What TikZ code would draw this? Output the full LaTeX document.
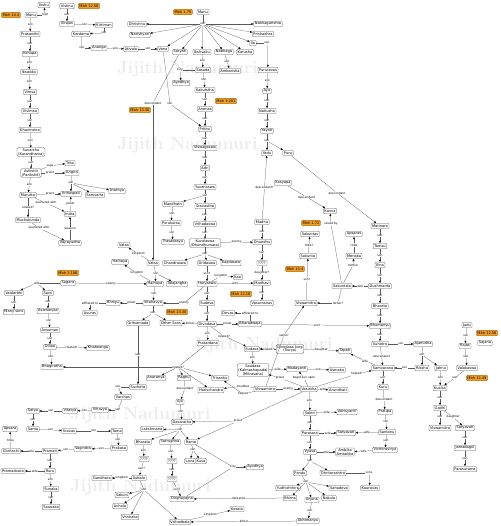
\documentclass[tikz,border=0pt]{standalone}
\usepackage{fontspec}
\usetikzlibrary{arrows.meta}
\newfontfamily\dvs{DejaVu Sans}
\definecolor{linec}{HTML}{5A5A5A}
\definecolor{refor}{HTML}{F0A02A}
\definecolor{refdk}{HTML}{8A5A10}
\definecolor{wmark}{HTML}{ECECEC}
\newcommand\nfont{\dvs\fontsize{5.1}{5.6}\selectfont}
\newcommand\lfont{\dvs\fontsize{4.1}{4.5}\selectfont}
% label on a straight connector: src, text, tgt
\newcommand\lk[3]{\path (#1) -- node[lbl] (#1-#3) {#2} (#3);
  \draw[ln] (#1) -- (#1-#3); \draw[ar] (#1-#3) -- (#3);}
% label at a given point: src, text, tgt, point
\newcommand\lkat[4]{\node[lbl] (#1-#3) at (#4) {#2};
  \draw[ln] (#1) -- (#1-#3); \draw[ar] (#1-#3) -- (#3);}

\begin{document}
\begin{tikzpicture}[x=0.05cm,y=-0.05cm,
    box/.style={draw=linec,fill=white,rounded corners=1.5pt,line width=0.35pt,
      font=\nfont,inner xsep=1.6pt,inner ysep=1pt,minimum height=8pt,align=center},
    ref/.style={box,fill=refor,draw=refdk},
    lbl/.style={font=\lfont,fill=white,inner sep=0.4pt},
    ln/.style={draw=linec,line width=0.35pt},
    ar/.style={ln,-{Triangle[length=3pt,width=2.6pt,color=black]}},
    wm/.style={text=wmark,font=\fontsize{25}{25}\selectfont\bfseries,anchor=west}]
  \useasboundingbox[fill=white] (0,0) rectangle (500,526);
  % watermark
  \node[wm] at (115,69) {Jijith Nadumuri};
  \node[wm] at (115,145) {Jijith Nadumuri};
  \node[wm] at (190,345) {Jijith Nadumuri};
  \node[wm] at (68,415) {Jijith Nadumuri};
  \node[wm] at (68,487) {Jijith Nadumuri};

  % ---- Mbh 14.4 line of Manu
  \node[box] (ikshu) at (44,5) {Ikshu};
  \node[ref] (refa) at (11,15) {Mbh 14.4};
  \node[box] (manua) at (31,15) {Manu};
  \node[box] (prasandhi) at (30,34) {Prasandhi};
  \node[box] (kshupa) at (30,54) {Kshupa};
  \node[box] (ikshvakua) at (29,72) {Ikswaku};
  \node[box] (vimsa) at (30,92) {Vimsa};
  \node[box] (vivimsa) at (30,111) {Vivimsa};
  \node[box] (khaninetra) at (30,130) {Khaninetra};
  \node[box] (suvarcha) at (31,152) {Suvarcha\\(Karandhama)};
  \node[box] (avikshit) at (31,173) {Avikshit\\(Parikshit)};
  \node[box] (marutta) at (28,195) {Marutta};
  \node[box] (muchukunda) at (28,220) {Muchukunda};
  \node[box] (trita) at (70,163) {Trita};
  \node[box] (angira) at (72,173) {Angira};
  \node[box] (vrihaspati) at (71,194) {Vrihaspati};
  \node[box] (samvarta) at (95,195) {Samvarta};
  \node[box] (utathya) at (117,191) {Utathya};
  \node[box] (indra) at (70,214) {Indra};
  \node[box] (vajra) at (70,243) {Vajrayudha};
  \lkat{manua}{rupt}{ikshu}{45,15}
  \lk{manua}{son}{prasandhi}
  \lk{prasandhi}{son}{kshupa}
  \lk{kshupa}{son}{ikshvakua}
  \lk{ikshvakua}{son}{vimsa}
  \lk{vimsa}{son}{vivimsa}
  \lk{vivimsa}{son}{khaninetra}
  \lk{khaninetra}{son}{suvarcha}
  \lk{suvarcha}{son}{avikshit}
  \lk{avikshit}{son}{marutta}
  \lkat{avikshit}{sage}{trita}{50,166}
  \lkat{avikshit}{priest}{angira}{50,173}
  \node[lbl] (angira-son) at (71,183) {son};
  \draw[ln] (angira) -- (angira-son);
  \foreach \t in {vrihaspati,samvarta,utathya} \draw[ar] (angira-son) -- (\t);
  \lkat{marutta}{priest}{vrihaspati}{50,194}
  \lkat{marutta}{quarreled with}{indra}{46,203}
  \lk{marutta}{related?}{muchukunda}
  \lk{indra}{priest}{vrihaspati}
  \lkat{muchukunda}{quarreled with}{vajra}{39,228}
  \lk{vajra}{weapon}{indra}

  % ---- Vishnu line (Mbh 12.58)
  \node[box] (vishnu) at (67,6) {Vishnu};
  \node[ref] (refb) at (89,6) {Mbh 12.58};
  \node[box] (virajas) at (67,24) {Virajas};
  \node[box] (kirtiman) at (104,25) {Kirtiman};
  \node[box] (kardama) at (81,34) {Kardama};
  \node[box] (ananga) at (99,48) {Ananga};
  \node[box] (atibala) at (131,49) {Ativala};
  \node[box] (vena) at (163,49) {Vena};
  \lk{vishnu}{son}{virajas}
  \lk{virajas}{son}{kirtiman}
  \lkat{kirtiman}{son}{kardama}{104,33}
  \lkat{kardama}{son}{ananga}{82,48}
  \lk{ananga}{son}{atibala}
  \lk{atibala}{son}{vena}

  % ---- Manu (Mbh 1.75)
  \node[ref] (refc) at (183,12) {Mbh 1.75};
  \node[box] (manub) at (203,12) {Manu};
  \node[box] (dhrishnu) at (137,24) {Dhrishnu};
  \node[box] (narishyan) at (140,35) {Narishyan};
  \node[box] (nabhagarishta) at (268,24) {Nabhagarishta};
  \node[box] (prishadhra) at (263,34) {Prishadhra};
  \node[box] (ila) at (253,43) {Ila};
  \node[box] (sharyati) at (180,52) {Saryati};
  \node[box] (ikshvakub) at (202,52) {Ikshvaku};
  \node[box] (nabhaga) at (224,52) {Nabhaga};
  \node[box] (karusha) at (245,52) {Karusha};
  \node[lbl] (manub-son) at (203,24) {son};
  \draw[ln] (manub) -- (manub-son);
  \foreach \t in {vena,dhrishnu,narishyan,nabhagarishta,prishadhra,ila,
    sharyati,ikshvakub,nabhaga,karusha} \draw[ar] (manub-son) -- (\t);
  \node[box] (pururavas) at (268,70) {Pururavas};
  \node[box] (ayu) at (267,91) {Ayu};
  \node[box] (nahusha) at (267,111) {Nahusha};
  \node[box] (yayati) at (267,131) {Yayati};
  \node[box] (yadu) at (267,153) {Yadu};
  \node[box] (puru) at (288,153) {Puru};
  \node[box] (ambarisha) at (230,71) {Ambarisha};
  \lkat{ila}{son}{pururavas}{267,43}
  \lk{pururavas}{son}{ayu}
  \lk{ayu}{son}{nahusha}
  \lk{nahusha}{son}{yayati}
  \node[lbl] (yayati-son) at (267,141) {son};
  \draw[ln] (yayati) -- (yayati-son);
  \foreach \t in {yadu,puru} \draw[ar] (yayati-son) -- (\t);
  \lk{nabhaga}{son}{ambarisha}

  % ---- Ikshvaku kings
  \node[box] (sasada) at (203,70) {Sasada};
  \node[box] (ayodhyaa) at (181,83) {Ayodhya};
  \node[box] (kakutstha) at (205,90) {Kakutstha};
  \node[box] (anenas) at (205,109) {Anenas};
  \node[ref] (refd) at (226,101) {Mbh 3.201};
  \node[box] (prithu) at (205,129) {Prithu};
  \node[box] (viswagaswa) at (205,148) {Viswagaswa};
  \node[box] (adri) at (205,168) {Adri};
  \node[box] (yuvanaswa) at (205,187) {Yuvanaswa};
  \node[box] (sravastha) at (205,206) {Sravastha};
  \node[box] (mandhatri) at (173,204) {Mandhatri};
  \node[box] (purukutsa) at (171,223) {Purukutsa};
  \node[box] (trasadasyu) at (173,242) {Trasadasyu};
  \node[box] (vrihadaswa) at (205,224) {Vrihadaswa};
  \node[box] (kuvalaswa) at (205,243) {Kuvalaswa\\(Dhundhumara)};
  \node[box] (chandraswa) at (175,263) {Chandraswa};
  \node[box] (dridaswa) at (207,263) {Dridaswa};
  \node[box] (kapilaswa) at (231,263) {Kapilaswa};
  \lk{ikshvakub}{son}{sasada}
  \lkat{sasada}{City}{ayodhyaa}{180,70}
  \lk{sasada}{son}{kakutstha}
  \lk{kakutstha}{son}{anenas}
  \lk{anenas}{son}{prithu}
  \lkat{vena}{son}{prithu}{170,104}
  \lk{prithu}{son}{viswagaswa}
  \lk{viswagaswa}{son}{adri}
  \lk{adri}{son}{yuvanaswa}
  \node[lbl] (yuvanaswa-son) at (205,195.5) {son};
  \draw[ln] (yuvanaswa) -- (yuvanaswa-son);
  \foreach \t in {sravastha,mandhatri} \draw[ar] (yuvanaswa-son) -- (\t);
  \lk{mandhatri}{son}{purukutsa}
  \lk{purukutsa}{son}{trasadasyu}
  \lk{sravastha}{son}{vrihadaswa}
  \lk{vrihadaswa}{son}{kuvalaswa}
  \node[lbl] (kuvalaswa-son) at (205,254) {son};
  \draw[ln] (kuvalaswa) -- (kuvalaswa-son);
  \foreach \t in {chandraswa,dridaswa,kapilaswa} \draw[ar] (kuvalaswa-son) -- (\t);

  % ---- Madhu, Dhundhu, Kasi kings
  \node[box] (madhu) at (262,222) {Madhu};
  \node[box] (dhundhu) at (262,242) {Dhundhu};
  \node[box] (unka) at (262,263) {????};
  \node[box] (kasi) at (238,277) {Kasi};
  \node[box] (haryaswa) at (207,284) {Haryaswa};
  \node[box] (madhavi) at (262,283) {Madhavi};
  \node[ref] (refe) at (241,294) {Mbh 12.16};
  \node[box] (vasumanas) at (262,303) {Vasumanas};
  \node[box] (sudeva) at (207,303) {Sudeva};
  \node[box] (divodasa) at (207,324) {Divodasa};
  \node[box] (devas) at (228,313) {Devas};
  \node[box] (bharadvaja) at (250,324) {Bharadwaja};
  \node[box] (othersons) at (171,323) {Other Sons};
  \node[ref] (reff) at (177,312) {Mbh 13.30};
  \node[box] (pratardana) at (208,343) {Pratardana};
  \lk{kuvalaswa}{enemy}{dhundhu}
  \lk{madhu}{son}{dhundhu}
  \lk{madhu}{descendant?}{yadu}
  \lk{dhundhu}{son}{unka}
  \lk{unka}{daughter?}{madhavi}
  \lk{dridaswa}{son?}{haryaswa}
  \lkat{haryaswa}{kingdom}{kasi}{221,276}
  \lk{haryaswa}{wife}{madhavi}
  \lk{madhavi}{son}{vasumanas}
  \lk{haryaswa}{son}{sudeva}
  \lk{sudeva}{son}{divodasa}
  \lk{divodasa}{priest}{bharadvaja}
  \lkat{bharadvaja}{affiliated to}{devas}{250,313}
  \lk{divodasa}{killed}{othersons}
  \lk{divodasa}{son}{pratardana}

  % ---- Saudasa, Vasistha
  \node[box] (sudasa) at (252,349) {Sudasa};
  \node[box] (surya) at (290,349) {Divodasa king\\(Surya)};
  \node[box] (tapati) at (345,351) {Tapati};
  \node[box] (saudasa) at (253,370) {Saudasa\\(Kalmashapada)\\(Mitrasaha)};
  \node[box] (madayanti) at (297,369) {Madayanti};
  \node[box] (asmaka) at (337,370) {Asmaka};
  \node[box] (vasistha) at (309,389) {Vasistha};
  \node[box] (viswamitrab) at (265,389) {Viswamitra};
  \node[box] (arundhati) at (338,390) {Arundhati};
  \node[box] (harischandra) at (211,390) {Harischandra};
  \node[box] (trisanku) at (220,378) {Trisanku};
  \node[box] (raghu) at (184,378) {Raghu};
  \node[box] (anaranya) at (156,378) {Anaranya};
  \lkat{divodasa}{related?}{sudasa}{224,336}
  \lk{surya}{related?}{sudasa}
  \lk{surya}{daughter}{tapati}
  \lk{sudasa}{son}{saudasa}
  \lk{saudasa}{wife}{madayanti}
  \lk{madayanti}{son}{asmaka}
  \lkat{vasistha}{priest}{saudasa}{280,378}
  \lkat{vasistha}{begot son upon}{madayanti}{304,378}
  \lk{viswamitrab}{enemy}{vasistha}
  \lk{vasistha}{wife}{arundhati}
  \lkat{viswamitrab}{troubled}{harischandra}{243,386}
  \lkat{viswamitrab}{helped}{trisanku}{243,394}
  \node[lbl] (rel) at (178,367) {related?};
  \draw[ln] (pratardana) -- (rel);
  \foreach \t in {anaranya,raghu,trisanku,harischandra} \draw[ar] (rel) -- (\t);

  % ---- Rama
  \node[box] (aja) at (180,402) {Aja};
  \node[box] (dasaratha) at (182,422) {Dasaratha};
  \node[box] (lakshmana) at (152,429) {Lakshmana};
  \node[box] (bharatab) at (143,442) {Bharata};
  \node[box] (satrughna) at (170,442) {Satrughna};
  \node[box] (rama) at (191,442) {Rama};
  \node[box] (lava) at (190,461) {Lava};
  \node[box] (kusa) at (201,461) {Kusa};
  \node[box] (unkb) at (144,459) {????};
  \node[box] (subala) at (139,478) {Subala};
  \node[box] (gandhara) at (102,478) {Gandhara};
  \node[box] (sakuni) at (122,495) {Sakuni};
  \node[box] (achala) at (120,506) {Achala};
  \node[box] (vrishaka) at (130,517) {Vrishaka};
  \node[box] (unkc) at (172,461) {????};
  \node[box] (unkd) at (172,479) {????};
  \node[box] (dirghayajna) at (182,499) {Dirghayajna};
  \node[box] (ayodhyab) at (255,467) {Ayodhya};
  \node[box] (kosala) at (237,509) {Kosala};
  \node[box] (vrihadbala) at (180,522) {Vrihadbala};
  \lkat{raghu}{descendant}{aja}{185,388}
  \lk{aja}{son}{dasaratha}
  \node[lbl] (dasaratha-son) at (180,430) {son};
  \draw[ln] (dasaratha) -- (dasaratha-son);
  \foreach \t in {lakshmana,bharatab,satrughna,rama} \draw[ar] (dasaratha-son) -- (\t);
  \node[lbl] (rama-son) at (193,450) {son};
  \draw[ln] (rama) -- (rama-son);
  \foreach \t in {lava,kusa} \draw[ar] (rama-son) -- (\t);
  \lk{bharatab}{son}{unkb}
  \lk{unkb}{son?}{subala}
  \lk{subala}{kingdom}{gandhara}
  \node[lbl] (subala-son) at (144,490) {son};
  \draw[ln] (subala) -- (subala-son);
  \foreach \t in {sakuni,achala,vrishaka,vrihadbala} \draw[ar] (subala-son) -- (\t);
  \lk{satrughna}{son}{unkc}
  \lk{unkc}{son}{unkd}
  \lk{unkd}{son?}{dirghayajna}
  \lkat{rama}{City}{ayodhyab}{233,467}
  \draw[ln] (dirghayajna) -- (rama-ayodhyab);
  \node[lbl] (vasistha-priest) at (238,421) {priest};
  \draw[ln] (vasistha) -- (vasistha-priest);
  \foreach \t in {dasaratha,rama} \draw[ar] (vasistha-priest) -- (\t);
  \lk{vrihadbala}{kingdom}{kosala}

  % ---- Vasistha to Kurus
  \node[box] (saktri) at (310,413) {Saktri};
  \node[box] (adrisyanti) at (347,412) {Adrisyanti};
  \node[box] (parasara) at (310,433) {Parasara};
  \node[box] (satyavatia) at (346,433) {Satyavati};
  \node[box] (vyasa) at (310,452) {Vyasa};
  \node[box] (ambika) at (345,452) {Ambika\\Ambalika};
  \node[box] (pandu) at (300,473) {Pandu};
  \node[box] (dhritarashtra) at (333,473) {Dhritarashtra};
  \node[box] (kauravas) at (370,488) {Kauravas};
  \node[box] (yudhishthira) at (288,488) {Yudhishthira};
  \node[box] (bhima) at (290,498) {Bhima};
  \node[box] (arjuna) at (312,500) {Arjuna};
  \node[box] (nakula) at (329,498) {Nakula};
  \node[box] (sahadeva) at (339,488) {Sahadeva};
  \node[box] (abhimanyu) at (308,521) {Abhimanyu};
  \lk{vasistha}{son}{saktri}
  \lk{saktri}{wife}{adrisyanti}
  \lk{saktri}{son}{parasara}
  \lk{parasara}{wife}{satyavatia}
  \lk{parasara}{son}{vyasa}
  \lk{vyasa}{wife}{ambika}
  \node[lbl] (vyasa-son) at (310,461) {son};
  \draw[ln] (vyasa) -- (vyasa-son);
  \foreach \t in {pandu,dhritarashtra} \draw[ar] (vyasa-son) -- (\t);
  \lkat{dhritarashtra}{sons}{kauravas}{369,473}
  \node[lbl] (pandu-son) at (306,482) {son};
  \draw[ln] (pandu) -- (pandu-son);
  \foreach \t in {yudhishthira,bhima,arjuna,nakula,sahadeva} \draw[ar] (pandu-son) -- (\t);
  \lk{arjuna}{son}{abhimanyu}
  \lk{bhima}{defeated}{dirghayajna}
  \lk{abhimanyu}{killed}{vrihadbala}

  % ---- Puru line
  \node[box] (kasyapa) at (283,183) {Kasyapa};
  \node[box] (kanva) at (330,211) {Kanva};
  \node[box] (matinara) at (380,226) {Matinara};
  \node[box] (tamsu) at (380,246) {Tamsu};
  \node[box] (ilina) at (380,265) {Ilina};
  \node[box] (apsaras) at (354,234) {Apsaras};
  \node[box] (menaka) at (354,256) {Menaka};
  \node[ref] (refg) at (311,223) {Mbh 1.72};
  \node[box] (sakuntas) at (310,234) {Sakuntas};
  \node[box] (sakunta) at (308,256) {Sakunta};
  \node[ref] (refh) at (295,269) {Mbh 13.4};
  \node[box] (viswamitraa) at (306,303) {Viswamitra};
  \node[box] (dushmanta) at (380,286) {Dushmanta};
  \node[box] (sakuntala) at (342,286) {Sakuntala};
  \node[box] (bharataa) at (380,306) {Bharata};
  \node[box] (bhumanyu) at (380,326) {Bhumanyu};
  \node[box] (suhotra) at (380,344) {Suhotra};
  \node[box] (ajamidha) at (423,344) {Ajamidha};
  \node[box] (riksha) at (422,368) {Riksha};
  \node[box] (jahnu) at (441,368) {Jahnu};
  \node[box] (samvarana) at (383,368) {Samvarana};
  \node[box] (kuru) at (383,387) {Kuru};
  \node[box] (pratipa) at (385,412) {Pratipa};
  \node[box] (santanu) at (387,432) {Santanu};
  \node[box] (vichitravirya) at (385,450) {Vichitravirya};
  \lkat{puru}{descendant}{matinara}{337,193}
  \lk{kasyapa}{descendant}{kanva}
  \lk{matinara}{son}{tamsu}
  \lk{tamsu}{son}{ilina}
  \lk{ilina}{son}{dushmanta}
  \lk{dushmanta}{wife}{sakuntala}
  \lk{dushmanta}{son}{bharataa}
  \lk{bharataa}{son}{bhumanyu}
  \lk{bhumanyu}{son}{suhotra}
  \lk{suhotra}{son}{ajamidha}
  \lk{suhotra}{descendant}{samvarana}
  \lkat{samvarana}{wife}{tapati}{365,361}
  \node[lbl] (ajamidha-son) at (422,355) {son};
  \draw[ln] (ajamidha) -- (ajamidha-son);
  \foreach \t in {riksha,jahnu} \draw[ar] (ajamidha-son) -- (\t);
  \lk{riksha}{son}{samvarana}
  \lk{samvarana}{son}{kuru}
  \lk{kuru}{descendant}{pratipa}
  \lk{pratipa}{son}{santanu}
  \lk{santanu}{wife}{satyavatia}
  \lk{santanu}{son}{vichitravirya}
  \lk{vichitravirya}{wife}{ambika}
  \lk{menaka}{tribe}{apsaras}
  \lkat{sakuntala}{mother}{menaka}{353,265}
  \lkat{sakuntala}{raised by}{kanva}{331,224}
  \lkat{sakuntala}{father?}{viswamitraa}{338,303}
  \lk{sakunta}{tribe?}{sakuntas}
  \lk{viswamitraa}{son?}{sakunta}
  \lkat{bharadvaja}{son?}{bhumanyu}{317,325}
  \lkat{viswamitrab}{same?}{viswamitraa}{284,335}
  \lkat{vasistha}{helped?}{samvarana}{357,374}

  % ---- Kusika line
  \node[box] (jadu) at (467,325) {Jadu};
  \node[ref] (refi) at (487,333) {Mbh 12.58};
  \node[box] (sajana) at (485,343) {Sajana};
  \node[box] (rajas) at (465,346) {Rajas};
  \node[box] (valakaswa) at (467,368) {Valakaswa};
  \node[ref] (refj) at (477,378) {Mbh 12.49};
  \node[box] (kusika) at (440,388) {Kusika};
  \node[box] (gadhi) at (440,408) {Gadhi};
  \node[box] (viswamitrac) at (440,428) {Viswamitra};
  \node[box] (satyavatib) at (465,428) {Satyavati};
  \node[box] (jamadagni) at (465,448) {Jamadagni};
  \node[box] (parasurama) at (465,469) {Parasurama};
  \lk{jadu}{son}{rajas}
  \lkat{valakaswa}{son}{kusika}{455,378}
  \lk{rajas}{son}{valakaswa}
  \lk{jahnu}{son}{kusika}
  \lk{kusika}{son}{gadhi}
  \lkat{gadhi}{son}{viswamitrac}{440,417}
  \lkat{gadhi}{daughter}{satyavatib}{453,417}
  \lk{satyavatib}{son}{jamadagni}
  \lk{jamadagni}{son}{parasurama}

  % ---- Haihaya line
  \node[ref] (refl) at (140,110) {Mbh 13.30};
  \node[box] (vatsak) at (124,245) {Vatsa};
  \node[box] (vatsa) at (153,263) {Vatsa};
  \node[box] (haihayak) at (120,262) {Haihaya};
  \node[box] (haihaya) at (155,284) {Haihaya};
  \node[box] (talajangha) at (177,284) {Talajangha};
  \node[box] (vitahavya) at (153,303) {Vitahavya};
  \node[box] (bhrigu) at (113,303) {Bhrigu};
  \node[box] (asuras) at (90,313) {Asuras};
  \node[box] (gritsamada) at (138,323) {Gritsamada};
  \lkat{sharyati}{descendant}{vatsa}{153,103}
  \lk{vatsa}{kingdom}{vatsak}
  \node[lbl] (vatsa-son) at (156,273.5) {son};
  \draw[ln] (vatsa) -- (vatsa-son);
  \foreach \t in {haihaya,talajangha} \draw[ar] (vatsa-son) -- (\t);
  \lkat{haihaya}{kingdom}{haihayak}{137,273}
  \lk{haihaya}{son}{vitahavya}
  \lk{vitahavya}{priest}{bhrigu}
  \lkat{bhrigu}{affiliated to}{asuras}{90,303}
  \node[lbl] (vitahavya-son) at (153,313) {son};
  \draw[ln] (vitahavya) -- (vitahavya-son);
  \foreach \t in {gritsamada,othersons} \draw[ar] (vitahavya-son) -- (\t);
  \lkat{haryaswa}{enemy}{vitahavya}{184,303}

  % ---- Gritsamada descendants
  \node[box] (sucheta) at (138,387) {Sucheta};
  \node[box] (varchas) at (123,397) {Varchas};
  \node[box] (vihavya) at (100,410) {Vihavya};
  \node[box] (vitatya) at (70,411) {Vitatya};
  \node[box] (satya) at (33,411) {Satya};
  \node[box] (santa) at (33,429) {Santa};
  \node[box] (apsara) at (10,429) {Apsara};
  \node[box] (sravas) at (69,431) {Sravas};
  \node[box] (tama) at (117,431) {Tama};
  \node[box] (prakasa) at (119,448) {Prakasa};
  \node[box] (vagindra) at (83,449) {Vagindra};
  \node[box] (pramati) at (50,451) {Pramati};
  \node[box] (ghritachi) at (11,451) {Ghritachi};
  \node[box] (ruru) at (50,471) {Ruru};
  \node[box] (pramadvara) at (13,471) {Pramadvara};
  \node[box] (sunaka) at (51,489) {Sunaka};
  \node[box] (saunaka) at (51,507) {Saunaka};
  \lk{gritsamada}{son}{sucheta}
  \lkat{sucheta}{son}{varchas}{118,387}
  \lkat{varchas}{son}{vihavya}{118,410}
  \lk{vihavya}{son}{vitatya}
  \lk{vitatya}{son}{satya}
  \lk{satya}{son}{santa}
  \lk{santa}{son}{sravas}
  \lk{sravas}{son}{tama}
  \lk{tama}{son}{prakasa}
  \lk{prakasa}{son}{vagindra}
  \lk{vagindra}{son}{pramati}
  \lk{pramati}{wife}{ghritachi}
  \lk{ghritachi}{tribe}{apsara}
  \lk{pramati}{son}{ruru}
  \lk{ruru}{wife}{pramadvara}
  \lk{ruru}{son}{sunaka}
  \lk{sunaka}{son}{saunaka}

  % ---- Sagara line
  \node[ref] (refk) at (68,273) {Mbh 3.106};
  \node[box] (sagara) at (68,283) {Sagara};
  \node[box] (vaidarbhi) at (14,293) {Vaidarbhi};
  \node[box] (saivi) at (48,293) {Saivi};
  \node[box] (manysons) at (14,312) {Many sons};
  \node[box] (asamanjas) at (48,311) {Asamanjas};
  \node[box] (ansuman) at (50,330) {Ansuman};
  \node[box] (dilipa) at (50,347) {Dilipa};
  \node[box] (khatvanga) at (98,348) {Khatwanga};
  \node[box] (bhagiratha) at (52,367) {Bhagiratha};
  \lk{sagara}{enemy}{haihaya}
  \node[lbl] (sagara-wife) at (37,283) {wife};
  \draw[ln] (sagara) -- (sagara-wife);
  \foreach \t in {vaidarbhi,saivi} \draw[ar] (sagara-wife) -- (\t);
  \lk{vaidarbhi}{son}{manysons}
  \lk{saivi}{son}{asamanjas}
  \lk{asamanjas}{son}{ansuman}
  \lk{ansuman}{son}{dilipa}
  \lk{dilipa}{related?}{khatvanga}
  \lk{dilipa}{son}{bhagiratha}
  \draw[ar] (rel) -- (bhagiratha);
\end{tikzpicture}
\end{document}
